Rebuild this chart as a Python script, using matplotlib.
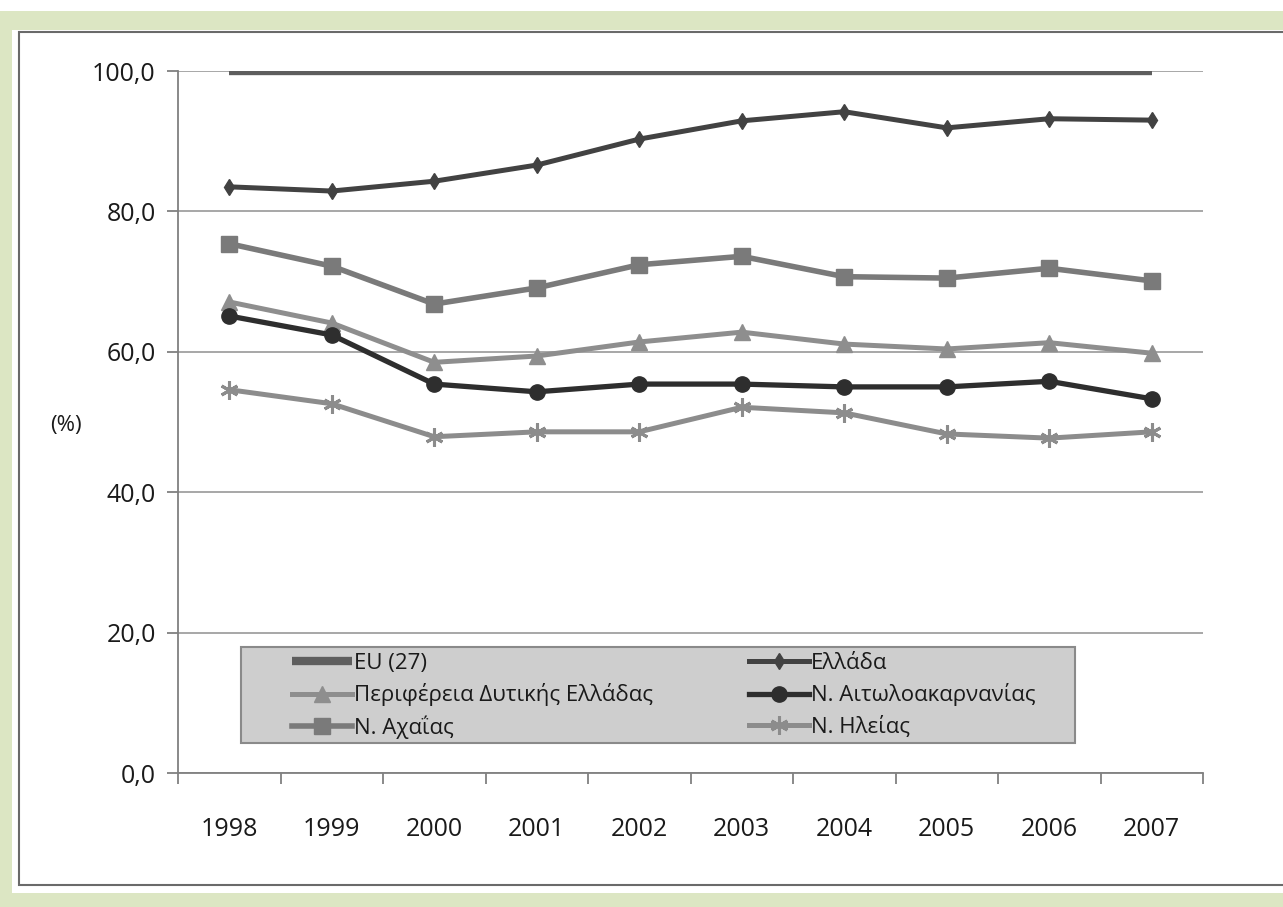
import matplotlib.pyplot as plt
from matplotlib.patches import Rectangle
from matplotlib import font_manager

# Δεδομένα (εκτίμηση από το διάγραμμα)
years = ['1998', '1999', '2000', '2001', '2002', '2003', '2004', '2005', '2006', '2007']
eu27 = [100.0] * 10
ellada = [83.5, 82.9, 84.3, 86.6, 90.3, 92.9, 94.2, 91.9, 93.2, 93.0]
dytiki = [67.1, 64.1, 58.5, 59.4, 61.4, 62.8, 61.1, 60.4, 61.3, 59.8]
aitwlo = [65.1, 62.4, 55.4, 54.3, 55.4, 55.4, 55.0, 55.0, 55.8, 53.3]
axaia = [75.4, 72.2, 66.8, 69.1, 72.4, 73.6, 70.7, 70.5, 71.9, 70.1]
ileia = [54.6, 52.6, 47.9, 48.6, 48.6, 52.1, 51.3, 48.3, 47.7, 48.6]
y_ticks = [0, 20, 40, 60, 80, 100]

names = {f.name for f in font_manager.fontManager.ttflist}
fams = [f for f in ['Liberation Sans Narrow', 'Open Sans', 'DejaVu Sans'] if f in names]
plt.rcParams['font.family'] = fams

W, H = 1283, 907
fig = plt.figure(figsize=(W / 100, H / 100), dpi=100, facecolor='white')

# Πλαίσιο (πράσινο περίγραμμα και λευκό πάνελ)
def px_rect(x0, y0, x1, y1, z=-10, **kw):
    fig.patches.append(Rectangle((x0 / W, 1 - y1 / H), (x1 - x0) / W, (y1 - y0) / H,
                                 transform=fig.transFigure, figure=fig, zorder=z, **kw))

px_rect(0, 11, 1283, 907, facecolor='#dce6c3', edgecolor='none')
px_rect(12, 30, 1300, 893, facecolor='white', edgecolor='none')
px_rect(19, 32, 1300, 885, facecolor='white', edgecolor='#6a6a6a', linewidth=1.5)

ax = fig.add_axes([178 / W, 1 - 773 / H, (1203 - 178) / W, 702 / H])
ax.set_facecolor('none')
ax.set_zorder(5)

# fondo gris de la leyenda
ax.add_patch(Rectangle(((241 - 178) / 1025, (773 - 743) / 702), (1075 - 241) / 1025, 96 / 702,
                       transform=ax.transAxes, facecolor='#cecece', edgecolor='#8a8a8a',
                       linewidth=1.5, zorder=3))

x = list(range(len(years)))
ax.plot(x, eu27, color='#5e5e5e', lw=6, label='EU (27)', solid_capstyle='butt', zorder=4)
ax.plot(x, dytiki, color='#8e8e8e', lw=3.6, marker='^', ms=11, label='Περιφέρεια Δυτικής Ελλάδας', zorder=4)
ax.plot(x, axaia, color='#7a7a7a', lw=4.0, marker='s', ms=12, label='Ν. Αχαΐας', zorder=4)
ax.plot(x, ellada, color='#424242', lw=3.6, marker='d', ms=8, label='Ελλάδα', zorder=4)
ax.plot(x, aitwlo, color='#2e2e2e', lw=3.8, marker='o', ms=11, label='Ν. Αιτωλοακαρνανίας', zorder=4)
ax.plot(x, ileia, color='#8c8c8c', lw=3.6, marker=(6, 2, 0), ms=13, mew=2.2, label='Ν. Ηλείας', zorder=4)

ax.set_xlim(-0.5, len(years) - 0.5)
ax.set_ylim(0, 100)
ax.set_yticks(y_ticks)
ax.set_yticklabels([f'{v:.1f}'.replace('.', ',') for v in y_ticks], fontsize=18, color='#1a1a1a')
ax.yaxis.grid(True, color='#a0a0a0', lw=1.3)
ax.set_axisbelow(True)

ax.set_xticks(x)
ax.set_xticklabels(years, fontsize=18, color='#1a1a1a')
ax.tick_params(axis='x', length=0, pad=32)
ax.set_xticks([i - 0.5 for i in range(len(years) + 1)], minor=True)
ax.tick_params(axis='x', which='minor', length=8, color='#808080', width=1.3)
ax.tick_params(axis='y', length=8, color='#808080', width=1.3, pad=8)

for s in ['top', 'right']:
    ax.spines[s].set_visible(False)
for s in ['left', 'bottom']:
    ax.spines[s].set_color('#808080')
    ax.spines[s].set_linewidth(1.3)

fig.text(50 / W, 1 - 425 / H, '(%)', fontsize=16, va='center', ha='left', color='#1a1a1a')

leg = ax.legend(loc='upper left', ncol=2,
                bbox_to_anchor=((292 - 178) / 1025, (773 - 653) / 702),
                fontsize=16, frameon=False,
                handlelength=2.7, handletextpad=0.1, borderaxespad=0, labelspacing=0.42,
                borderpad=0.0, columnspacing=4.3)
leg.set_zorder(6)
for t in leg.get_texts():
    t.set_color('#1a1a1a')

fig.savefig('out.png', dpi=100, facecolor=fig.get_facecolor())
